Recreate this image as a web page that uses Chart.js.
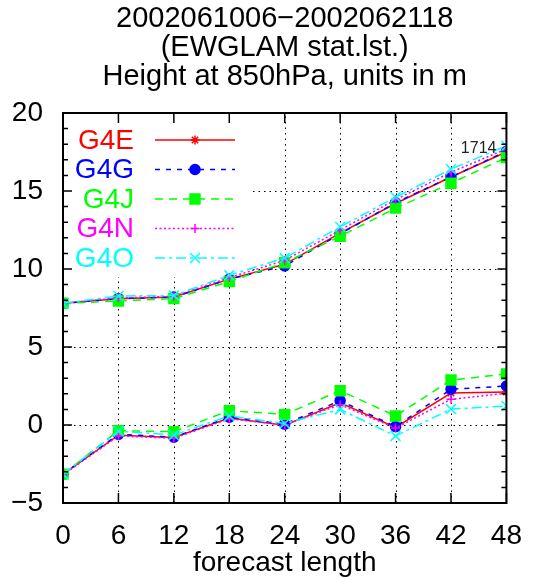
<!DOCTYPE html>
<html>
<head>
<meta charset="utf-8">
<script src="https://cdn.jsdelivr.net/npm/chart.js@4"></script>
<style>
  body { margin: 0; background: #fff; }
</style>
</head>
<body>
<canvas id="grafico" width="538" height="579"></canvas>
<script>
// forecast steps (hours)
const steps = [0, 6, 12, 18, 24, 30, 36, 42, 48];
const modelos = ['G4E', 'G4G', 'G4J', 'G4N', 'G4O'];

// rms error (upper curves)
const rmsG4E = [7.8, 8.1, 8.2, 9.35, 10.3, 12.3, 14.2, 15.9, 17.5];
const rmsG4G = [7.8, 8.1, 8.2, 9.35, 10.2, 12.25, 14.25, 15.9, 17.55];
const rmsG4J = [7.8, 7.95, 8.1, 9.2, 10.4, 12.1, 13.9, 15.5, 17.15];
const rmsG4N = [7.8, 8.15, 8.25, 9.45, 10.55, 12.5, 14.45, 16.2, 17.7];
const rmsG4O = [7.8, 8.27, 8.3, 9.6, 10.7, 12.7, 14.6, 16.4, 17.9];

// bias (lower curves)
const biasG4E = [-3.15, -0.65, -0.8, 0.45, -0.02, 1.43, -0.15, 2.05, 2.12];
const biasG4G = [-3.15, -0.6, -0.78, 0.5, 0.06, 1.56, -0.1, 2.29, 2.5];
const biasG4J = [-3.15, -0.36, -0.43, 0.92, 0.68, 2.2, 0.58, 2.88, 3.27];
const biasG4N = [-3.2, -0.7, -0.85, 0.4, 0.0, 1.3, -0.2, 1.65, 2.03];
const biasG4O = [-3.15, -0.4, -0.64, 0.58, 0.1, 1.0, -0.7, 1.02, 1.22];

const yTicks = [-5, 0, 5, 10, 15, 20];
const casos = '1714';

const rms = [rmsG4E, rmsG4G, rmsG4J, rmsG4N, rmsG4O];
const bias = [biasG4E, biasG4G, biasG4J, biasG4N, biasG4O];

// estilos
const colores = ['#ff0000', '#0000ff', '#00ff00', '#ff00ff', '#00ffff'];
const guiones = [[], [5, 6], [8, 6], [2, 2.5], [10, 4, 3, 4]];
const marcas = ['star', 'circle', 'rect', 'cross', 'crossRot'];
const radios = [4.5, 5, 7, 4.5, 7];
const fuente = '"Liberation Sans", Arial, sans-serif';

function serie(valores, i) {
    return {
        label: modelos[i],
        data: steps.map((s, k) => ({ x: s, y: valores[k] })),
        borderColor: colores[i],
        backgroundColor: colores[i],
        pointBackgroundColor: colores[i],
        pointBorderColor: colores[i],
        borderWidth: 1.5,
        borderDash: guiones[i],
        pointStyle: marcas[i],
        pointRadius: radios[i],
        pointBorderWidth: 1.5,
        tension: 0,
        fill: false,
        order: 4 - i
    };
}

const datasets = [];
for (let i = 0; i < modelos.length; i++) {
    datasets.push(serie(rms[i], i));
    datasets.push(serie(bias[i], i));
}

const marco = {
    id: 'marco',
    beforeDatasetsDraw(chart) {
        const ctx = chart.ctx, a = chart.chartArea;
        const xs = chart.scales.x, ys = chart.scales.y;
        const legR = a.left + 190, legB = a.top + 164;
        ctx.save();
        // rejilla punteada
        ctx.strokeStyle = '#000';
        ctx.lineWidth = 1;
        ctx.setLineDash([1.5, 4]);
        steps.slice(1, -1).forEach(s => {
            const px = Math.round(xs.getPixelForValue(s)) + 0.5;
            ctx.beginPath();
            ctx.moveTo(px, a.bottom);
            ctx.lineTo(px, px < legR ? legB : a.top);
            ctx.stroke();
        });
        yTicks.slice(1, -1).forEach(v => {
            const py = Math.round(ys.getPixelForValue(v)) + 0.5;
            ctx.beginPath();
            ctx.moveTo(py < legB ? legR : a.left, py);
            ctx.lineTo(a.right, py);
            ctx.stroke();
        });
        // leyenda
        ctx.setLineDash([]);
        ctx.font = '28px ' + fuente;
        ctx.textAlign = 'right';
        ctx.textBaseline = 'middle';
        modelos.forEach((m, i) => {
            const y = a.top + 27 + i * 29.5;
            ctx.fillStyle = colores[i];
            ctx.fillText(m, a.left + 71, y + 1);
            ctx.strokeStyle = colores[i];
            ctx.lineWidth = 1.5;
            ctx.setLineDash(guiones[i]);
            ctx.beginPath();
            ctx.moveTo(a.left + 92, y);
            ctx.lineTo(a.left + 172, y);
            ctx.stroke();
            ctx.setLineDash([]);
            Chart.helpers.drawPoint(ctx, {
                pointStyle: marcas[i], radius: radios[i], rotation: 0, borderWidth: 1.5
            }, a.left + 132, y);
        });
        ctx.restore();
    },
    afterDraw(chart) {
        const ctx = chart.ctx, a = chart.chartArea;
        const xs = chart.scales.x, ys = chart.scales.y;
        ctx.save();
        ctx.strokeStyle = '#000';
        ctx.lineWidth = 1.5;
        steps.forEach(s => {
            const px = xs.getPixelForValue(s);
            ctx.beginPath();
            ctx.moveTo(px, a.bottom); ctx.lineTo(px, a.bottom - 10);
            ctx.moveTo(px, a.top); ctx.lineTo(px, a.top + 10);
            ctx.stroke();
        });
        for (let v = yTicks[0]; v <= yTicks[yTicks.length - 1]; v++) {
            const py = ys.getPixelForValue(v);
            const len = v % 5 === 0 ? 9 : 5;
            ctx.beginPath();
            ctx.moveTo(a.left, py); ctx.lineTo(a.left + len, py);
            ctx.moveTo(a.right, py); ctx.lineTo(a.right - len, py);
            ctx.stroke();
        }
        ctx.lineWidth = 2;
        ctx.strokeRect(a.left, a.top, a.right - a.left, a.bottom - a.top);
        // numero de casos
        ctx.fillStyle = '#222';
        ctx.font = '16px ' + fuente;
        ctx.textAlign = 'right';
        ctx.textBaseline = 'middle';
        ctx.fillText(casos, xs.getPixelForValue(48) - 10, ys.getPixelForValue(17.7));
        ctx.restore();
    }
};

const grafico = document.getElementById('grafico').getContext('2d');
new Chart(grafico, {
    type: 'line',
    data: { datasets: datasets },
    options: {
        responsive: false,
        animation: false,
        layout: { padding: { left: 0, right: 23, top: 0, bottom: 0 } },
        plugins: {
            legend: { display: false },
            tooltip: { enabled: false },
            title: {
                display: true,
                fullSize: false,
                text: ['2002061006\u22122002062118', '(EWGLAM stat.lst.)', 'Height at 850hPa, units in m'],
                color: '#000',
                font: { size: 29, family: fuente, weight: 'normal', lineHeight: 1.0 },
                padding: { top: 4, bottom: 22 }
            }
        },
        scales: {
            x: {
                type: 'linear',
                min: 0,
                max: 48,
                afterFit: s => { s.height = 76; },
                grid: { display: false, drawTicks: false },
                border: { display: false },
                ticks: {
                    stepSize: 6,
                    maxRotation: 0,
                    autoSkip: false,
                    padding: 16,
                    color: '#000',
                    font: { size: 28, family: fuente }
                },
                title: {
                    display: true,
                    text: 'forecast length',
                    color: '#000',
                    font: { size: 28, family: fuente, lineHeight: 1.0 },
                    padding: { top: 0, bottom: 2 }
                }
            },
            y: {
                min: -5,
                max: 20,
                afterFit: s => { s.width = 63; },
                grid: { display: false, drawTicks: false },
                border: { display: false },
                ticks: {
                    stepSize: 5,
                    padding: 20,
                    color: '#000',
                    font: { size: 28, family: fuente },
                    callback: v => v < 0 ? '\u2212' + Math.abs(v) : String(v)
                }
            }
        }
    },
    plugins: [marco]
});
</script>
</body>
</html>
